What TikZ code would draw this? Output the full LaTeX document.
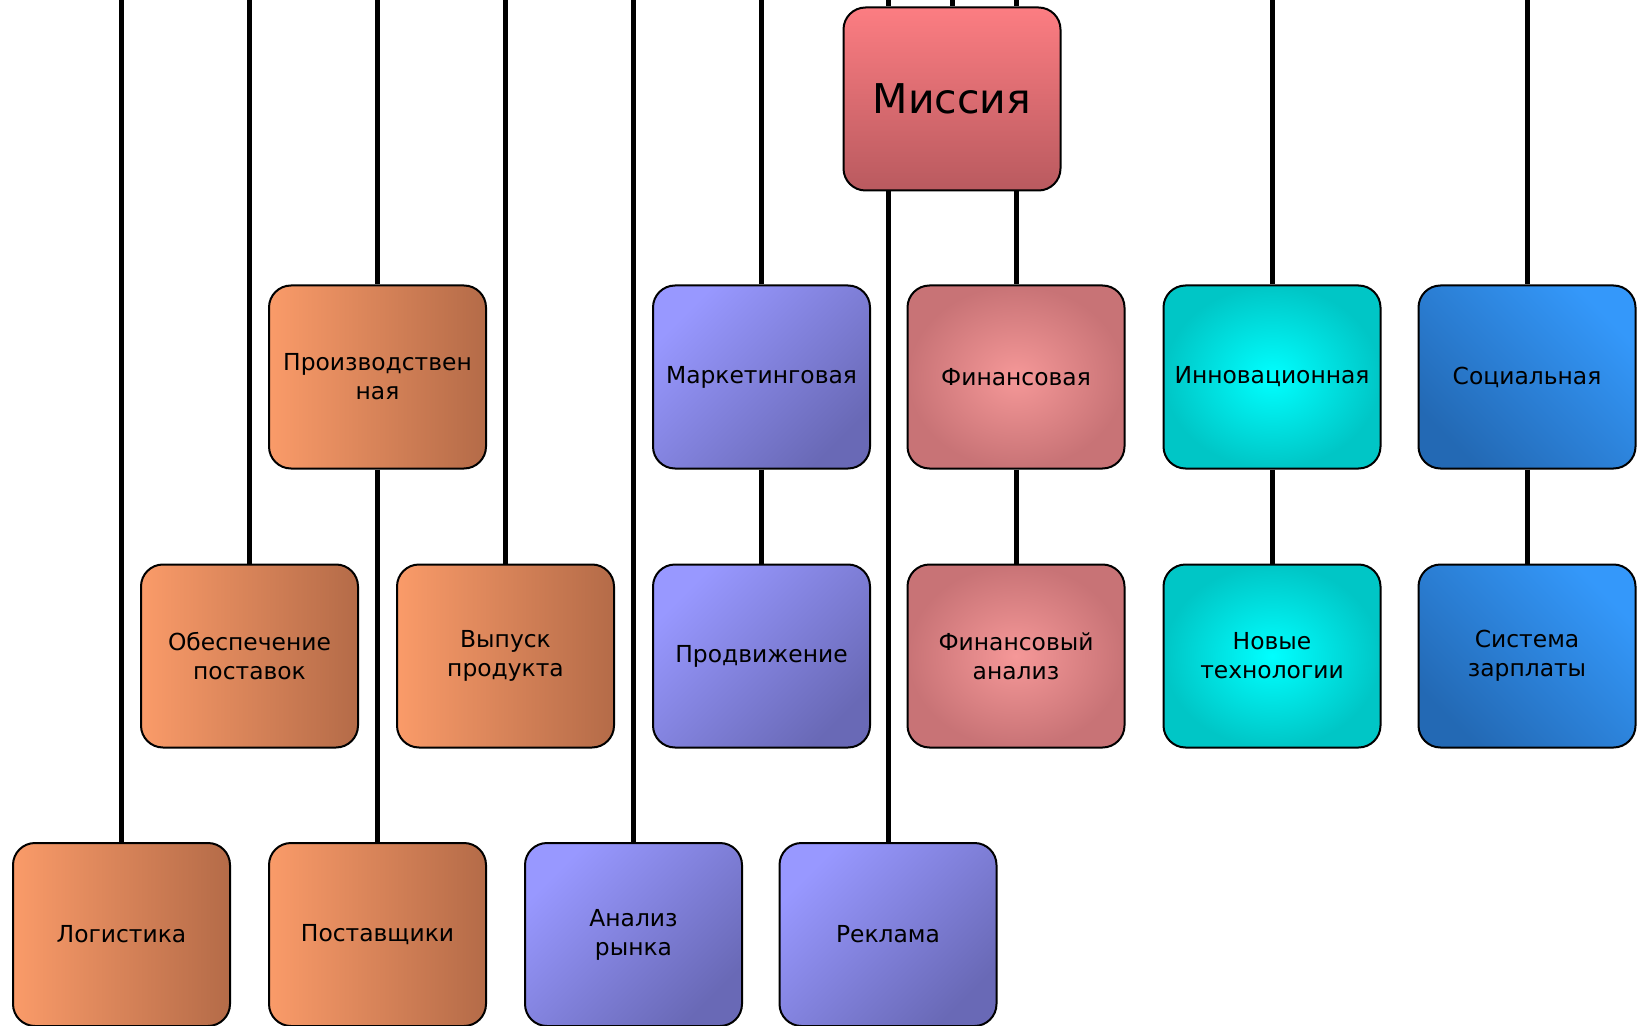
\documentclass[tikz,border=0pt]{standalone}
\usepackage{fontspec}
\setmainfont{DejaVu Sans}
\definecolor{orL}{RGB}{250,155,105}
\definecolor{orR}{RGB}{180,107,72}
\definecolor{puL}{RGB}{152,152,255}
\definecolor{puD}{RGB}{105,105,182}
\definecolor{fiI}{RGB}{245,152,152}
\definecolor{fiO}{RGB}{200,115,118}
\definecolor{inI}{RGB}{0,255,255}
\definecolor{inO}{RGB}{0,198,198}
\definecolor{soL}{RGB}{52,152,250}
\definecolor{soD}{RGB}{35,105,180}
\definecolor{miT}{RGB}{252,125,130}
\definecolor{miB}{RGB}{185,90,95}
\begin{document}
\begin{tikzpicture}[x=0.5pt,y=-0.5pt,
  box/.style={draw=black, line width=1pt, rounded corners=11pt,
    minimum width=108.5pt, minimum height=91.5pt, inner sep=2pt,
    align=center, font=\fontsize{11.7}{14.6}\selectfont},
  orbox/.style={box, left color=orL, right color=orR},
  pubox/.style={box, top color=puL, bottom color=puD, shading angle=45},
  fibox/.style={box, inner color=fiI, outer color=fiO},
  inbox/.style={box, inner color=inI, outer color=inO},
  sobox/.style={box, top color=soL, bottom color=soD, shading angle=-45},
  mibox/.style={box, top color=miT, bottom color=miB, font=\fontsize{20.5}{24}\selectfont},
  link/.style={draw=black, line width=2.5pt}]
\useasboundingbox (0,0) rectangle (1637,1026);

% top ends of connectors
\coordinate (t0) at (121.5,0);
\coordinate (t1) at (249.5,0);
\coordinate (t2) at (377.5,0);
\coordinate (t3) at (505.5,0);
\coordinate (t4) at (633.5,0);
\coordinate (t5) at (761.5,0);
\coordinate (t6) at (888,0);
\coordinate (t6b) at (952,0);
\coordinate (t7) at (1016,0);
\coordinate (t9) at (1272,0);
\coordinate (t10) at (1527,0);

% nodes
\node[mibox] (mis) at (952,99) {Миссия};

\node[orbox] (proizv) at (377.5,377) {Производствен\\ная};
\node[pubox] (mark) at (761.5,377) {Маркетинговая};
\node[fibox] (fin) at (1016,377) {Финансовая};
\node[inbox] (inn) at (1272,377) {Инновационная};
\node[sobox] (soc) at (1527,377) {Социальная};

\node[orbox] (obesp) at (249.5,656) {Обеспечение\\поставок};
\node[orbox] (vyp) at (505.5,656) {Выпуск\\продукта};
\node[pubox] (prod) at (761.5,656) {Продвижение};
\node[fibox] (fan) at (1016,656) {Финансовый\\ анализ};
\node[inbox] (nov) at (1272,656) {Новые\\технологии};
\node[sobox] (sis) at (1527,656) {Система\\зарплаты};

\node[orbox] (log) at (121.5,934.5) {Логистика};
\node[orbox] (post) at (377.5,934.5) {Поставщики};
\node[pubox] (anal) at (633.5,934.5) {Анализ\\рынка};
\node[pubox] (rekl) at (888,934.5) {Реклама};

% connectors
\path[link] (t0) -- (log.north);
\path[link] (t1) -- (obesp.north);
\path[link] (t2) -- (proizv.north);
\path[link] (proizv.south) -- (post.north);
\path[link] (t3) -- (vyp.north);
\path[link] (t4) -- (anal.north);
\path[link] (t5) -- (mark.north);
\path[link] (mark.south) -- (prod.north);
\path[link] (t6) -- (t6 |- mis.north);
\path[link] (t6b) -- (mis.north);
\path[link] (t7) -- (t7 |- mis.north);
\path[link] (rekl.north |- mis.south) -- (rekl.north);
\path[link] (fin.north |- mis.south) -- (fin.north);
\path[link] (fin.south) -- (fan.north);
\path[link] (t9) -- (inn.north);
\path[link] (inn.south) -- (nov.north);
\path[link] (t10) -- (soc.north);
\path[link] (soc.south) -- (sis.north);
\end{tikzpicture}
\end{document}
